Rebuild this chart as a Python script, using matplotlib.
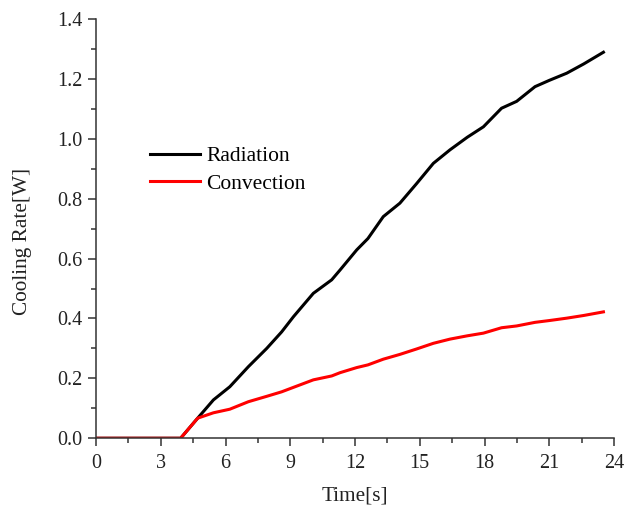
import matplotlib
matplotlib.use('Agg')
import matplotlib.pyplot as plt
from matplotlib.ticker import MultipleLocator

# values
time = [0, 3.92, 4.71, 5.44, 6.2, 7.06, 7.91, 8.6, 9.15, 10.07, 10.92, 11.31,
        12.08, 12.6, 13.31, 14.08, 14.85, 15.63, 16.40, 17.2, 17.95, 18.79,
        19.49, 20.34, 21.0, 21.81, 22.6, 23.51]
radiation = [0, 0, 0.067, 0.128, 0.172, 0.239, 0.300, 0.355, 0.406, 0.484,
             0.529, 0.562, 0.629, 0.667, 0.740, 0.785, 0.850, 0.918, 0.963,
             1.005, 1.040, 1.102, 1.125, 1.174, 1.195, 1.219, 1.250, 1.289]
convection = [0, 0, 0.067, 0.085, 0.097, 0.122, 0.140, 0.155, 0.170, 0.195,
              0.208, 0.219, 0.236, 0.245, 0.264, 0.280, 0.298, 0.317, 0.331,
              0.342, 0.351, 0.369, 0.375, 0.387, 0.393, 0.401, 0.410, 0.422]

plt.rcParams['font.family'] = ['Liberation Serif', 'DejaVu Serif']
tick_fs = 14.5
label_fs = 15.3
legend_fs = 15.5
ink = '#222222'

fig = plt.figure(figsize=(6.25, 5.09), dpi=100)
ax = fig.add_axes([0.1536, 0.139, 0.8288, 0.8237])

ax.plot(time, radiation, color='black', lw=2.2, label='Radiation')
ax.plot(time, convection, color='#ff0000', lw=2.2, label='Convection')

ax.set_xlim(0, 24)
ax.set_ylim(0, 1.4)
ax.xaxis.set_major_locator(MultipleLocator(3))
ax.xaxis.set_minor_locator(MultipleLocator(1.5))
ax.yaxis.set_major_locator(MultipleLocator(0.2))
ax.yaxis.set_minor_locator(MultipleLocator(0.1))
ax.yaxis.set_major_formatter(plt.FuncFormatter(lambda v, p: '%.1f' % v))

for side in ('top', 'right'):
    ax.spines[side].set_visible(False)
for side in ('left', 'bottom'):
    ax.spines[side].set_linewidth(1.1)
    ax.spines[side].set_color('#333333')

ax.tick_params(which='major', direction='out', length=6, width=1.1,
               labelsize=tick_fs, colors='#333333', labelcolor=ink)
ax.tick_params(axis='x', which='major', pad=5)
ax.tick_params(axis='y', which='major', pad=3.5)
ax.tick_params(which='minor', direction='out', length=3.5, width=1.1,
               colors='#333333')

ax.set_xlabel('Time[s]', fontsize=label_fs, color=ink)
ax.set_ylabel('Cooling Rate[W]', fontsize=label_fs, color=ink)
ax.xaxis.set_label_coords(0.5, -0.116)
ax.yaxis.set_label_coords(-0.124, 0.47)

ax.legend(loc='upper left', bbox_to_anchor=(0.24, 0.713),
          bbox_transform=fig.transFigure, frameon=False, fontsize=legend_fs,
          handlelength=2.32, handletextpad=0.28, labelspacing=0.36,
          borderpad=0, borderaxespad=0)

fig.savefig('out.png', dpi=100)
